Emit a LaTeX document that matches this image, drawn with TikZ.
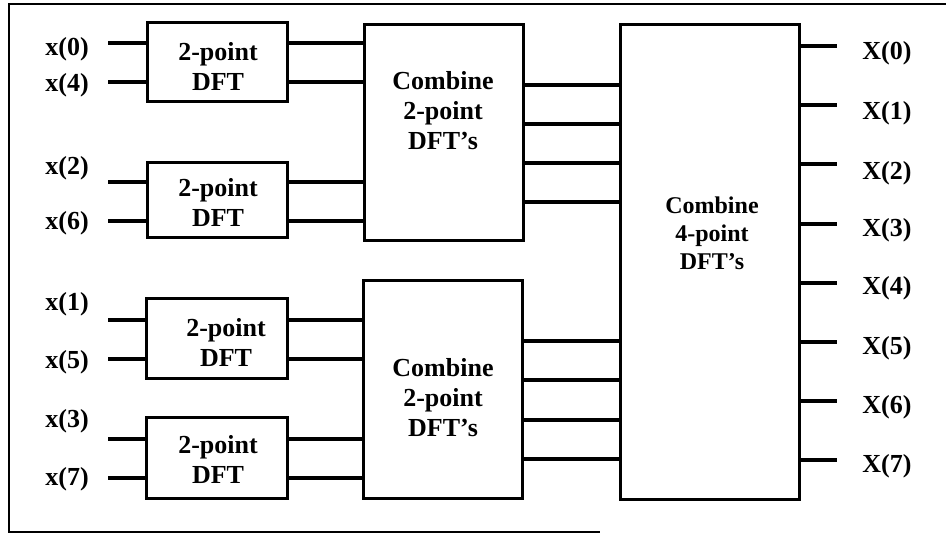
\documentclass[tikz,border=0pt]{standalone}
\usepackage{fontspec}
\setmainfont{Liberation Serif}
\begin{document}
\begin{tikzpicture}[x=1pt,y=-1pt,
  box/.style={draw,line width=3pt,rectangle,inner sep=0pt,outer sep=0pt},
  wire/.style={line width=4pt},
  lab/.style={font=\bfseries\fontsize{26}{30}\selectfont,inner sep=0pt,align=center},
  biglab/.style={font=\bfseries\fontsize{24}{28}\selectfont,inner sep=0pt,align=center}]
\useasboundingbox (0,0) rectangle (946,537);
\draw[line width=1.5pt] (946,4) -- (9,4) -- (9,532) -- (600,532);
% 2-point DFT boxes
\node[box,minimum width=140pt,minimum height=79pt] (d1) at (217,62.5) {};
\node[box,minimum width=140pt,minimum height=75pt] (d2) at (217,200.5) {};
\node[box,minimum width=141pt,minimum height=80pt] (d3) at (216.5,339) {};
\node[box,minimum width=141pt,minimum height=80pt] (d4) at (216.5,458) {};
\node[lab] (t1) at (218,67) {2-point\\DFT};
\node[lab] (t2) at (218,203) {2-point\\DFT};
\node[lab] (t3) at (226,342.5) {2-point\\DFT};
\node[lab] (t4) at (218,460) {2-point\\DFT};
% combine boxes
\node[box,minimum width=159pt,minimum height=216pt] (c1) at (443.5,133) {};
\node[box,minimum width=159pt,minimum height=217pt] (c2) at (442.5,389.5) {};
\node[lab] (tc1) at (443,111) {Combine\\2-point\\DFT's};
\node[lab] (tc2) at (443,397.5) {Combine\\2-point\\DFT's};
\node[box,minimum width=179pt,minimum height=474pt] (big) at (709.5,262) {};
\node[biglab] (tb) at (712,233) {Combine\\4-point\\DFT's};
% inputs
\foreach \n/\wy/\ly/\b/\c in {0/43/49/d1/c1, 4/82/85/d1/c1, 2/182/168/d2/c1, 6/221/223/d2/c1,
                           1/320/304/d3/c2, 5/359/362/d3/c2, 3/439/421/d4/c2, 7/478/479/d4/c2}{
  \coordinate (i\n) at (108,\wy);
  \node[lab] (lx\n) at (67,\ly) {x(\n)};
  \draw[wire] (i\n) -- (i\n -| \b.west);
  \draw[wire] (i\n -| \b.east) -- (i\n -| \c.west);
}
% combine outputs
\foreach \k/\wy/\c in {0/85/c1, 1/124/c1, 2/163/c1, 3/202/c1, 4/341/c2, 5/380/c2, 6/420/c2, 7/459/c2}{
  \coordinate (m\k) at (570,\wy);
  \draw[wire] (m\k -| \c.east) -- (m\k -| big.west);
}
% outputs
\foreach \k/\wy/\ly in {0/46/53, 1/105/113, 2/164/173, 3/224/230, 4/283/288, 5/342/348, 6/401/407, 7/460/466}{
  \coordinate (o\k) at (837,\wy);
  \draw[wire] (o\k -| big.east) -- (o\k);
  \node[lab] (lX\k) at (887,\ly) {X(\k)};
}
\end{tikzpicture}
\end{document}
